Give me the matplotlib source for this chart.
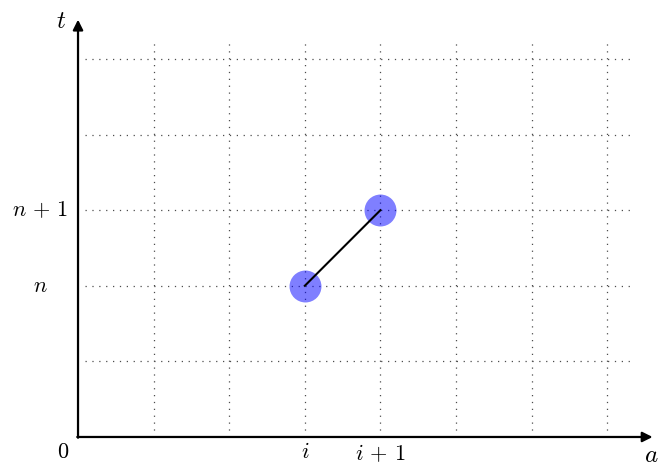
import matplotlib
matplotlib.use("Agg")
import matplotlib.pyplot as plt

plt.rcParams['mathtext.fontset'] = 'cm'

# grid positions (in cell units)
grid_x = [1, 2, 3, 4, 5, 6, 7]
grid_y = [1, 2, 3, 4, 5]

# the two points (i, n) -> (i+1, n+1)
pts_a = [3, 4]
pts_t = [2, 3]

x_ticks = [3, 4]
x_tick_labels = [r'$i$', r'$i\,+\,1$']
y_ticks = [2, 3]
y_tick_labels = [r'$n$', r'$n\,+\,1$']

fig = plt.figure(figsize=(6.59, 4.67), dpi=100)
ax = fig.add_axes([0, 0, 1, 1])
ax.set_xlim(-1.032, 7.685)
ax.set_ylim(-0.397, 5.780)
ax.axis('off')

# dotted grid
for gx in grid_x:
    ax.plot([gx, gx], [0, 5.27], color='0.3', lw=0.9, ls=(0, (1, 4.5)))
for gy in grid_y:
    ax.plot([0.09, 7.36], [gy, gy], color='0.3', lw=0.9, ls=(0, (1, 4.5)))

# axes with arrows
arrow = dict(arrowstyle='-|>', lw=1.6, color='black', mutation_scale=15,
             shrinkA=0, shrinkB=0)
ax.annotate('', xy=(7.6, 0), xytext=(-0.01, 0), arrowprops=arrow)
ax.annotate('', xy=(0, 5.52), xytext=(0, -0.01), arrowprops=arrow)

# segment and points
ax.plot(pts_a, pts_t, color='black', lw=1.5, zorder=3)
ax.plot(pts_a, pts_t, 'o', color='blue', alpha=0.5, ms=23, mec='none', zorder=2)

fs = 16
for x, lab in zip(x_ticks, x_tick_labels):
    ax.text(x, -0.07, lab, ha='center', va='top', fontsize=fs)
for y, lab in zip(y_ticks, y_tick_labels):
    ax.text(-0.5, y, lab, ha='center', va='center', fontsize=fs)
ax.text(-0.2, -0.07, r'$0$', ha='center', va='top', fontsize=fs)
ax.text(7.58, -0.24, r'$a$', ha='center', va='center', fontsize=fs + 2)
ax.text(-0.22, 5.5, r'$t$', ha='center', va='center', fontsize=fs + 2)

fig.savefig('out.png', dpi=100)
